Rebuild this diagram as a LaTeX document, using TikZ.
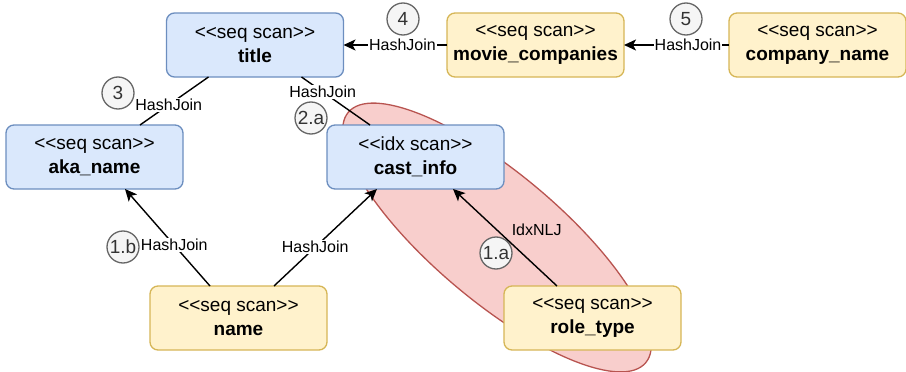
\documentclass[tikz,border=0pt]{standalone}
\usepackage{fontspec}
\setmainfont{Liberation Sans}
\usetikzlibrary{arrows.meta,shapes.geometric}

\definecolor{blueFill}{HTML}{DAE8FC}
\definecolor{blueLine}{HTML}{6C8EBF}
\definecolor{yelFill}{HTML}{FFF2CC}
\definecolor{yelLine}{HTML}{D6B656}
\definecolor{redFill}{HTML}{F8CECC}
\definecolor{redLine}{HTML}{B85450}
\definecolor{markFill}{HTML}{F5F5F5}
\definecolor{markLine}{HTML}{666666}
\definecolor{markText}{HTML}{333333}

% stereotype text such as <<seq scan>> (ligatures broken on purpose)
\newcommand\scanlabel[1]{<{}<#1>{}>}

\tikzset{
  opbox/.style={rounded corners=8pt, minimum width=177pt, minimum height=64pt,
    line width=1.3pt, align=center, inner sep=0pt, outer sep=0pt,
    font=\fontsize{19}{24}\selectfont},
  bluebox/.style={opbox, fill=blueFill, draw=blueLine},
  yellowbox/.style={opbox, fill=yelFill, draw=yelLine},
  joinline/.style={line width=1.4pt},
  joinarrow/.style={joinline, -{Stealth[length=12pt,width=11pt,inset=3pt]}},
  jlabel/.style={fill=white, inner sep=1pt, font=\fontsize{16}{18}\selectfont},
  plainlabel/.style={inner sep=1pt, font=\fontsize{16}{18}\selectfont},
  stepmark/.style={circle, minimum size=32pt, inner sep=0pt, fill=markFill,
    draw=markLine, text=markText, line width=1.3pt,
    font=\fontsize{19}{20}\selectfont},
  groupblob/.style={ellipse, fill=redFill, draw=redLine, line width=1.3pt,
    minimum width=388.8pt, minimum height=127.6pt, inner sep=0pt, outer sep=0pt}
}

\begin{document}
\begin{tikzpicture}[x=1pt,y=1pt]
  \useasboundingbox (0,0) rectangle (906,-372);

  % index nested-loop group
  \node[groupblob, rotate=-40.1] (grp) at (497,-237.5) {};

  % scan operators
  \node[bluebox]   (title) at (255,-45)    {\scanlabel{seq scan}\\\textbf{title}};
  \node[yellowbox] (mc)    at (535.5,-45)  {\scanlabel{seq scan}\\\textbf{movie\_companies}};
  \node[yellowbox] (cn)    at (817.5,-45)  {\scanlabel{seq scan}\\\textbf{company\_name}};
  \node[bluebox]   (aka)   at (94.5,-157)  {\scanlabel{seq scan}\\\textbf{aka\_name}};
  \node[bluebox]   (cast)  at (415.5,-157) {\scanlabel{idx scan}\\\textbf{cast\_info}};
  \node[yellowbox] (name)  at (238.5,-318) {\scanlabel{seq scan}\\\textbf{name}};
  \node[yellowbox] (role)  at (592.5,-318) {\scanlabel{seq scan}\\\textbf{role\_type}};

  % joins
  \draw[joinarrow] (mc.west) -- (title.east)
    node[jlabel, pos=0.43] {HashJoin};
  \draw[joinarrow] (cn.west) -- (mc.east)
    node[jlabel, pos=0.39] {HashJoin};
  \draw[joinline] ([xshift=42pt]title.south west) -- ([xshift=134pt]aka.north west)
    node[jlabel, pos=0.58] {HashJoin};
  \draw[joinline] ([xshift=135pt]title.south west) -- ([xshift=43pt]cast.north west)
    node[jlabel, pos=0.31] {HashJoin};
  \draw[joinarrow] ([xshift=60pt]name.north west) -- ([xshift=119pt]aka.south west)
    node[jlabel, pos=0.42] {HashJoin};
  \draw[joinarrow] ([xshift=124pt]name.north west) -- ([xshift=50pt]cast.south west)
    node[jlabel, pos=0.40] {HashJoin};
  \draw[joinarrow] ([xshift=53pt]role.north west) -- ([xshift=126pt]cast.south west)
    node[plainlabel, pos=0.58, xshift=40pt] {IdxNLJ};

  % execution order marks
  \node[stepmark] (s4)  at (403,-19)  {4};
  \node[stepmark] (s5)  at (686,-19)  {5};
  \node[stepmark] (s3)  at (118,-93)  {3};
  \node[stepmark] (s2a) at (311,-118) {2.a};
  \node[stepmark] (s1b) at (123,-247) {1.b};
  \node[stepmark] (s1a) at (496,-253) {1.a};
\end{tikzpicture}
\end{document}
